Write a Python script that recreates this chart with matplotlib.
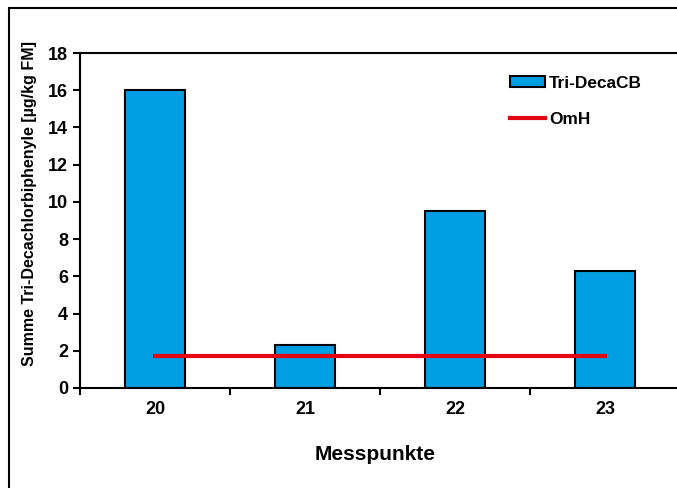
import numpy as np
import matplotlib.pyplot as plt
from matplotlib.patches import Rectangle
from matplotlib.ticker import FixedLocator

plt.rcParams['font.family'] = ['Liberation Sans', 'DejaVu Sans']
plt.rcParams['font.weight'] = 'bold'

messpunkte = ['20', '21', '22', '23']
tri_decacb = [16.0, 2.3, 9.5, 6.3]
omh = [1.7, 1.7, 1.7, 1.7]

W, H = 677, 488
fig = plt.figure(figsize=(W / 100, H / 100), dpi=100)

# outer frame (cut off on the right and bottom like the screenshot)
fig.patches.append(Rectangle((9 / W, -0.05), 1.2, 1 - 8 / H + 0.05,
                             transform=fig.transFigure, fill=False,
                             edgecolor='black', linewidth=1.5, zorder=0))

ax = fig.add_axes([80 / W, 1 - 388 / H, 600 / W, 335 / H])
x = np.arange(len(messpunkte))
ax.bar(x, tri_decacb, width=0.4, color='#009FE3', edgecolor='black',
       linewidth=1.5, label='Tri-DecaCB', zorder=2)
ax.plot(x, omh, color='#E30613', linewidth=3, label='OmH', zorder=3)

ax.set_xlim(-0.5, len(messpunkte) - 0.5)
ax.set_ylim(0, 18)
ax.set_yticks(np.arange(0, 19, 2))
ax.set_xticks(x)
ax.set_xticklabels(messpunkte)
ax.xaxis.set_minor_locator(FixedLocator(np.arange(-0.5, len(messpunkte), 1)))
ax.tick_params(axis='x', which='major', length=0, pad=9, labelsize=13)
ax.tick_params(axis='x', which='minor', length=5, width=1.5, direction='out')
ax.tick_params(axis='y', length=5, width=1.5, direction='out', labelsize=13)
for s in ax.spines.values():
    s.set_linewidth(1.5)

ax.set_xlabel('Messpunkte', fontsize=15, fontweight='bold')
ax.xaxis.set_label_coords(0.492, -0.17)
ax.set_ylabel('Summe Tri-Decachlorbiphenyle [µg/kg FM]', fontsize=11.5,
              fontweight='bold')
ax.yaxis.set_label_coords(-0.072, 0.55)

handles, labels = ax.get_legend_handles_labels()
order = [labels.index('Tri-DecaCB'), labels.index('OmH')]
ax.legend([handles[i] for i in order], [labels[i] for i in order],
          loc='upper left', bbox_to_anchor=(0.703, 0.958), frameon=False,
          fontsize=12.4, handlelength=2.0, handleheight=0.6, borderpad=0,
          labelspacing=1.25, handletextpad=0.25)

fig.savefig('out.png', dpi=100)
